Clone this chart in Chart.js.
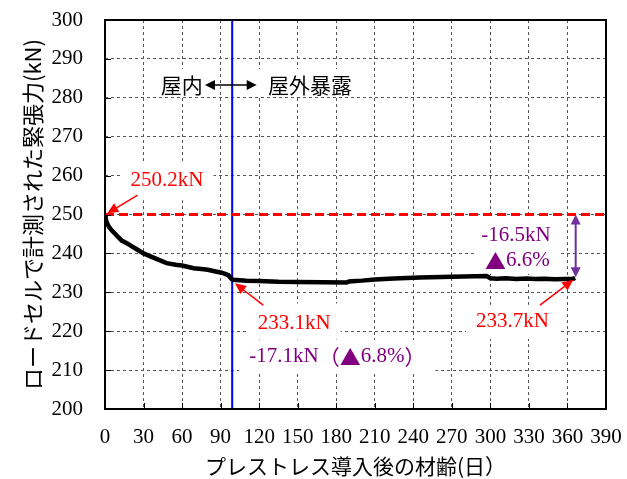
<!DOCTYPE html>
<html><head><meta charset="utf-8">
<script src="https://cdn.jsdelivr.net/npm/chart.js@4.4.0/dist/chart.umd.min.js"></script>
<style>html,body{margin:0;padding:0;background:#fff;}#wrap{width:627px;height:479px;}</style>
</head><body><div id="wrap"><canvas id="c" width="627" height="479"></canvas></div>
<script>
// ---- data ----
const days  = [0,0.5,1,2,3,5,8,10,13,17,20,25,30,35,40,48,55,60,69,75,80,87,90,93,96,98.6,100,110,120,135,150,170,188,190,195,200,210,225,245,270,297,300,305,312,320,328,335,342,350,358,364,366];
const force = [250.2,249.0,248.3,247.5,246.9,246.0,245.0,244.3,243.3,242.6,242.0,241.0,240.0,239.3,238.6,237.5,237.1,236.9,236.2,236.0,235.8,235.3,235.1,234.8,234.4,233.4,233.2,233.0,232.9,232.7,232.65,232.6,232.5,232.8,232.9,233.0,233.3,233.55,233.8,234.0,234.2,233.6,233.5,233.6,233.45,233.55,233.4,233.5,233.35,233.45,233.4,233.7];
const initialForce = 250.2;
const indoorEndForce = 233.1;
const finalForce = 233.7;
const referenceLine = 250;
const exposureDay = 99;
const xTickValues = [0,30,60,90,120,150,180,210,240,270,300,330,360,390];
const yTickValues = [200,210,220,230,240,250,260,270,280,290,300];
const xTitle = 'プレストレス導入後の材齢(日）';
const yTitle = 'ロードセルで計測された緊張力(kN)';

const NUM_FONT = '"Liberation Serif", "Times New Roman", serif';
const JP_FONT = '"Noto Sans CJK JP", sans-serif';
const RED = '#FF0000', PURPLE = '#800080', ARROW_PURPLE = '#7030A0';
const FS = 21;

function arrowHead(ctx, x1, y1, x2, y2, len, half, color) {
  const a = Math.atan2(y2 - y1, x2 - x1);
  ctx.beginPath();
  ctx.moveTo(x2, y2);
  ctx.lineTo(x2 - len*Math.cos(a) + half*Math.sin(a), y2 - len*Math.sin(a) - half*Math.cos(a));
  ctx.lineTo(x2 - len*Math.cos(a) - half*Math.sin(a), y2 - len*Math.sin(a) + half*Math.cos(a));
  ctx.closePath();
  ctx.fillStyle = color; ctx.fill();
}
function arrow(ctx, p1, p2, color, width, both, len, half) {
  const a = Math.atan2(p2.y - p1.y, p2.x - p1.x);
  const s = both ? {x: p1.x + len*0.8*Math.cos(a), y: p1.y + len*0.8*Math.sin(a)} : p1;
  const e = {x: p2.x - len*0.8*Math.cos(a), y: p2.y - len*0.8*Math.sin(a)};
  ctx.save();
  ctx.strokeStyle = color; ctx.lineWidth = width;
  ctx.beginPath(); ctx.moveTo(s.x, s.y); ctx.lineTo(e.x, e.y); ctx.stroke();
  arrowHead(ctx, p1.x, p1.y, p2.x, p2.y, len, half, color);
  if (both) arrowHead(ctx, p2.x, p2.y, p1.x, p1.y, len, half, color);
  ctx.restore();
}
function measureRuns(ctx, parts) {
  let total = 0;
  parts.forEach(p => { ctx.font = FS + 'px ' + p[1]; total += ctx.measureText(p[0]).width; });
  return total;
}
// draw mixed-font runs centred on (cx, cy)
function runs(ctx, parts, cx, cy, color) {
  ctx.save();
  ctx.textBaseline = 'middle'; ctx.textAlign = 'left'; ctx.fillStyle = color;
  let x0 = cx - measureRuns(ctx, parts) / 2;
  parts.forEach(p => { ctx.font = FS + 'px ' + p[1]; ctx.fillText(p[0], x0, cy); x0 += ctx.measureText(p[0]).width; });
  ctx.restore();
}

// text annotations: [day, kN] anchor, runs, colour, box extents (up, down)
function labels() {
  return [
    {at: [48.3, 258.8], parts: [[initialForce.toFixed(1) + 'kN', NUM_FONT]], color: RED, up: 18, down: 20},
    {at: [147.3, 222.0], parts: [[indoorEndForce.toFixed(1) + 'kN', NUM_FONT]], color: RED, up: 20, down: 16},
    {at: [180.9, 213.4], parts: [['-17.1kN', NUM_FONT], ['（▲', JP_FONT], ['6.8%', NUM_FONT], ['）', JP_FONT]], color: PURPLE, up: 17, down: 16},
    {at: [317.2, 222.4], parts: [[finalForce.toFixed(1) + 'kN', NUM_FONT]], color: RED, up: 17, down: 17},
    {at: [320, 244.7], parts: [['-16.5kN', NUM_FONT]], color: PURPLE, up: 17, down: 13},
    {at: [321, 238.1], parts: [['▲', JP_FONT], ['6.6%', NUM_FONT]], color: PURPLE, up: 13, down: 13},
    {at: [59.7, 283.3], parts: [['屋内', JP_FONT]], color: '#000', up: 16, down: 11},
    {at: [159.6, 283.3], parts: [['屋外暴露', JP_FONT]], color: '#000', up: 16, down: 11}
  ];
}

const decor = {
  id: 'decor',
  beforeDatasetsDraw(chart) {
    const {ctx, scales: {x, y}} = chart;
    ctx.save();
    ctx.fillStyle = '#fff';
    labels().forEach(l => {
      const cx = x.getPixelForValue(l.at[0]), cy = y.getPixelForValue(l.at[1]);
      const w = measureRuns(ctx, l.parts) + 20;
      ctx.fillRect(cx - w / 2, cy - l.up, w, l.up + l.down);
    });
    ctx.restore();
  },
  afterDatasetsDraw(chart) {
    const {ctx, chartArea: ca, scales: {x, y}} = chart;
    const P = (d, v) => ({x: x.getPixelForValue(d), y: y.getPixelForValue(v)});
    ctx.save();
    // inner tick marks
    ctx.strokeStyle = '#000'; ctx.lineWidth = 1;
    xTickValues.forEach(v => { const px = Math.round(x.getPixelForValue(v)) + 0.5; ctx.beginPath(); ctx.moveTo(px, ca.bottom); ctx.lineTo(px, ca.bottom - 6); ctx.stroke(); });
    yTickValues.forEach(v => { const py = Math.round(y.getPixelForValue(v)) + 0.5; ctx.beginPath(); ctx.moveTo(ca.left, py); ctx.lineTo(ca.left + 6, py); ctx.stroke(); });
    // frame
    ctx.lineWidth = 2;
    ctx.strokeRect(ca.left, ca.top, ca.right - ca.left, ca.bottom - ca.top);
    ctx.restore();

    labels().forEach(l => { const p = P(l.at[0], l.at[1]); runs(ctx, l.parts, p.x, p.y, l.color); });

    // arrows
    arrow(ctx, P(25.4, 255.0), P(1.8, 250.3), RED, 1.5, false, 11, 5);
    arrow(ctx, P(123.2, 226.7), P(101.2, 232.3), RED, 1.5, false, 11, 5);
    arrow(ctx, P(338.6, 226.7), P(364.5, 233.2), RED, 1.5, false, 11, 5);
    arrow(ctx, P(366.4, referenceLine), P(366.4, 233.85), ARROW_PURPLE, 2, true, 10, 5);
    arrow(ctx, P(77.8, 283.3), P(118.1, 283.3), '#000', 1.5, true, 10, 5);
  }
};

const curve = days.map((d, i) => ({x: d, y: force[i]}));

new Chart(document.getElementById('c'), {
  type: 'scatter',
  data: {
    datasets: [
      {data: [{x: 0, y: referenceLine}, {x: 390, y: referenceLine}], showLine: true, borderColor: RED, borderWidth: 3, borderDash: [9, 5], pointRadius: 0},
      {data: curve, showLine: true, borderColor: '#000', borderWidth: 4.5, pointRadius: 0, tension: 0},
      {data: [{x: exposureDay, y: 200}, {x: exposureDay, y: 300}], showLine: true, borderColor: '#0000FF', borderWidth: 2, pointRadius: 0}
    ]
  },
  options: {
    responsive: false, animation: false, devicePixelRatio: 1,
    layout: {padding: {top: 20, right: 21, left: 0, bottom: 0}},
    plugins: {legend: {display: false}, tooltip: {enabled: false}},
    scales: {
      x: {
        type: 'linear', min: 0, max: 390,
        afterBuildTicks: s => { s.ticks = xTickValues.map(v => ({value: v})); },
        afterFit: s => { s.height = 70; s.paddingLeft = 0; s.paddingRight = 0; },
        ticks: {padding: 16, color: '#000', font: {family: NUM_FONT, size: 21}, maxRotation: 0, autoSkip: false},
        grid: {color: '#555', lineWidth: 1, drawTicks: false},
        border: {display: false, dash: [3, 3]},
        title: {display: true, text: xTitle, color: '#000', font: {family: JP_FONT, size: 21}, padding: {top: 0, bottom: 0}}
      },
      y: {
        type: 'linear', min: 200, max: 300,
        afterBuildTicks: s => { s.ticks = yTickValues.map(v => ({value: v})); },
        afterFit: s => { s.width = 105; s.paddingTop = 0; s.paddingBottom = 0; },
        ticks: {padding: 22, color: '#000', font: {family: NUM_FONT, size: 21}, autoSkip: false},
        grid: {color: '#555', lineWidth: 1, drawTicks: false},
        border: {display: false, dash: [3, 3]},
        title: {display: true, text: yTitle, color: '#000', font: {family: JP_FONT, size: 22}, padding: {top: 19, bottom: 0}}
      }
    }
  },
  plugins: [decor]
});
</script>
</body></html>
